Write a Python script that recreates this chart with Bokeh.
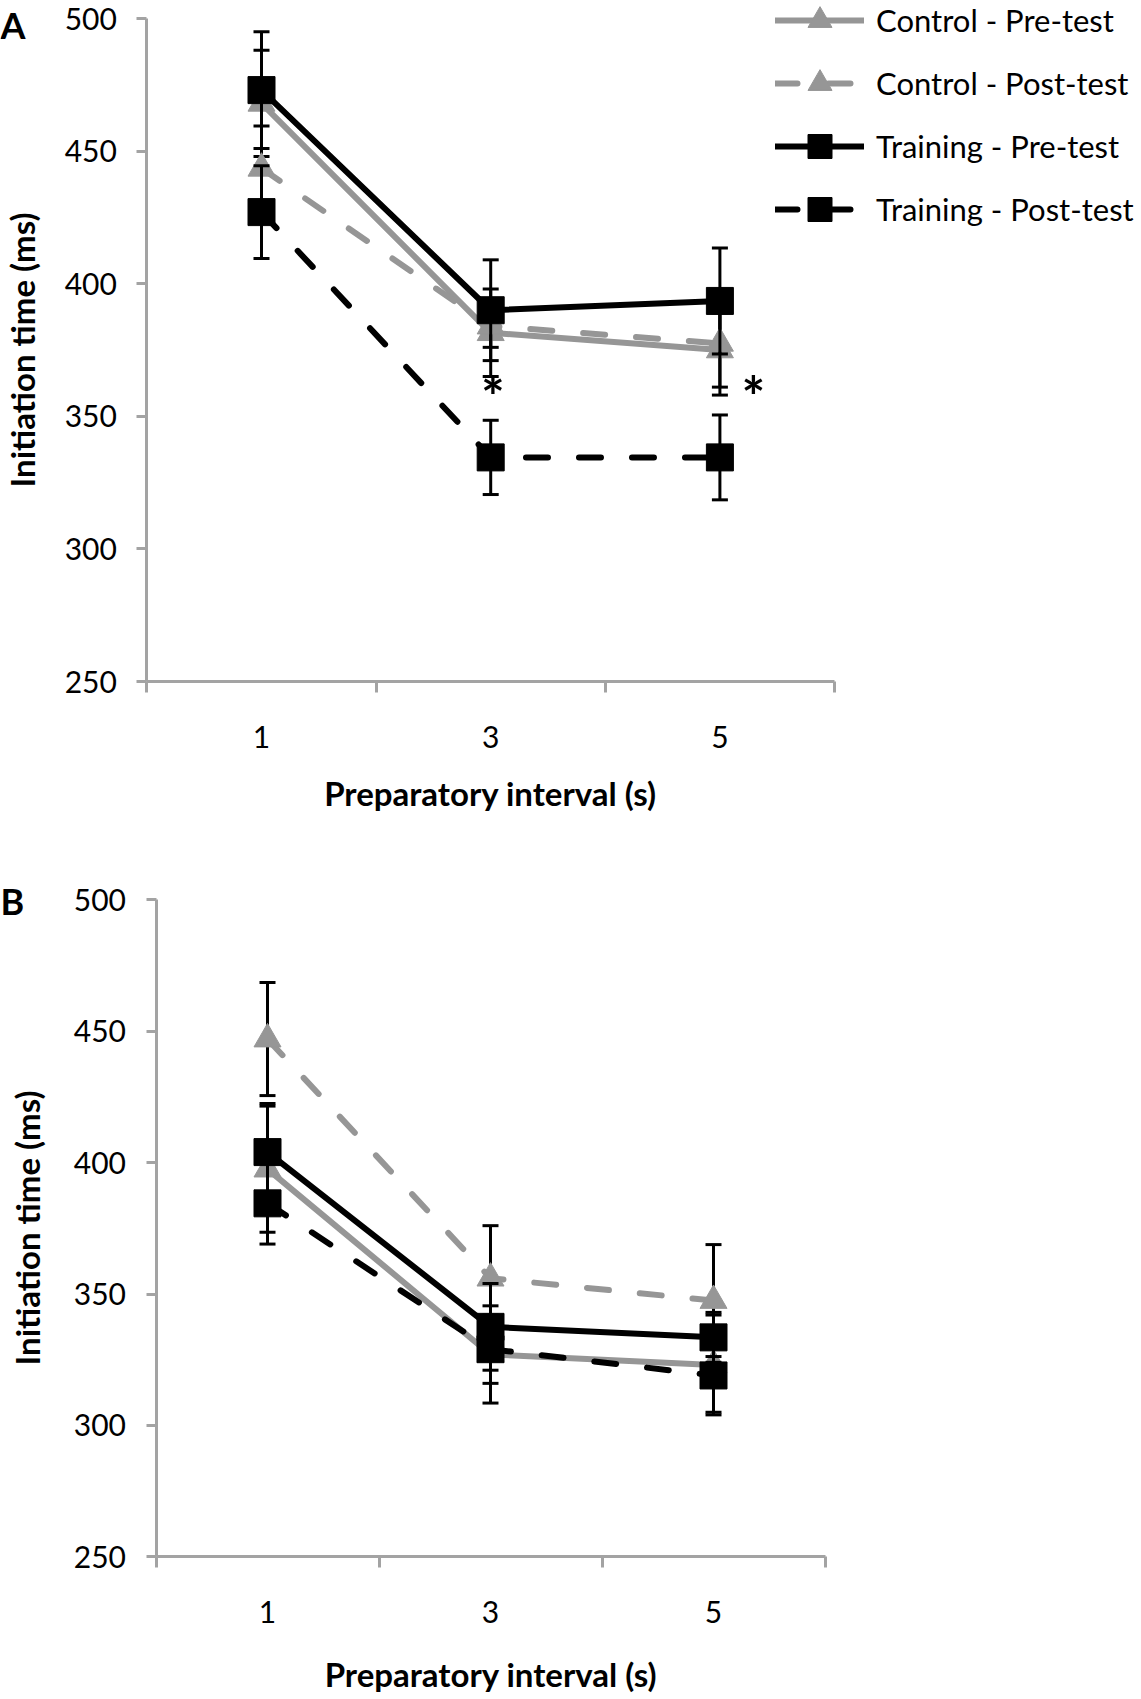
from bokeh.plotting import figure
from bokeh.models import (Range1d, FixedTicker, Legend, LegendItem, Label)
from bokeh.layouts import column
from bokeh.core.properties import value
from bokeh.embed import file_html
from bokeh.resources import INLINE

# ---------------- data ----------------
categories = ["1", "3", "5"]
y_ticks = [250, 300, 350, 400, 450, 500]
series_names = ["Control - Pre-test", "Control - Post-test",
                "Training - Pre-test", "Training - Post-test"]

# Panel A
a_ctrl_pre = [468, 381.5, 375]
a_ctrl_pre_err = [20, 16.5, 14]
a_ctrl_post = [443.5, 384, 377.5]
a_ctrl_post_err = [16, 8, 19.5]
a_train_pre = [473, 390, 393.5]
a_train_pre_err = [22, 19, 20]
a_train_post = [427, 334.5, 334.5]
a_train_post_err = [17.5, 14, 16]

# Panel B
b_ctrl_pre = [397.5, 327, 323]
b_ctrl_pre_err = [24, 18.5, 19]
b_ctrl_post = [447, 356, 347.5]
b_ctrl_post_err = [21.5, 20, 21.3]
b_train_pre = [404, 337.5, 333.5]
b_train_pre_err = [18.5, 16.5, 9.5]
b_train_post = [384.5, 329, 319]
b_train_post_err = [15.5, 13, 14]

# significance markers in panel A
sig_text = ["*", "*"]
sig_value = [361.5, 361.5]

# ---------------- styling ----------------
GRAY = "#969696"
AXIS = "#a3a3a3"
FONT = "Lato"
W = 1141
xs = [i + 0.5 for i in range(len(categories))]

styles = [
    dict(color=GRAY, dash="solid", marker="triangle"),
    dict(color=GRAY, dash="22 31", marker="triangle"),
    dict(color="black", dash="solid", marker="square"),
    dict(color="black", dash="22 31", marker="square"),
]


def make_panel(height, yaxis_px, x_ppu, ytop_px, ybot_px, series, errs,
               xtitle_standoff, ytitle_standoff, panel_letter, letter_top,
               legend=False):
    y_ppu = (ybot_px - ytop_px) / (y_ticks[-1] - y_ticks[0])
    x_range = Range1d(-yaxis_px / x_ppu, (W - yaxis_px) / x_ppu)
    y_range = Range1d(y_ticks[0] - (height - ybot_px) / y_ppu,
                      y_ticks[-1] + ytop_px / y_ppu)
    p = figure(width=W, height=height, output_backend="svg",
               toolbar_location=None, title=None, min_border=0,
               min_border_left=0, min_border_right=0, min_border_top=0,
               min_border_bottom=0, x_range=x_range, y_range=y_range)
    p.outline_line_color = None
    p.xgrid.visible = False
    p.ygrid.visible = False
    p.background_fill_color = "white"

    # y axis
    ya = p.yaxis[0]
    ya.fixed_location = 0
    ya.bounds = (y_ticks[0], y_ticks[-1])
    ya.ticker = FixedTicker(ticks=y_ticks)
    ya.axis_line_color = AXIS
    ya.axis_line_width = 3
    ya.major_tick_line_color = AXIS
    ya.major_tick_line_width = 3
    ya.major_tick_out = 10
    ya.major_tick_in = 0
    ya.minor_tick_line_color = None
    ya.major_label_text_font = FONT
    ya.major_label_text_font_size = "30px"
    ya.major_label_text_color = "black"
    ya.major_label_standoff = 20
    ya.axis_label = "Initiation time (ms)"
    ya.axis_label_text_font = FONT
    ya.axis_label_text_font_style = "bold"
    ya.axis_label_text_font_size = "33px"
    ya.axis_label_text_color = "black"
    ya.axis_label_standoff = ytitle_standoff

    # x axis: labels at category centres, ticks between categories
    xa = p.xaxis[0]
    xa.fixed_location = y_ticks[0]
    xa.bounds = (0, len(categories))
    xa.ticker = FixedTicker(ticks=xs, minor_ticks=list(range(len(categories) + 1)))
    xa.major_label_overrides = {x: c for x, c in zip(xs, categories)}
    xa.axis_line_color = AXIS
    xa.axis_line_width = 3
    xa.major_tick_out = 0
    xa.major_tick_in = 0
    xa.minor_tick_line_color = AXIS
    xa.minor_tick_line_width = 3
    xa.minor_tick_out = 11
    xa.minor_tick_in = 0
    xa.major_label_text_font = FONT
    xa.major_label_text_font_size = "30px"
    xa.major_label_text_color = "black"
    xa.major_label_standoff = 33
    xa.axis_label = "Preparatory interval (s)"
    xa.axis_label_text_font = FONT
    xa.axis_label_text_font_style = "bold"
    xa.axis_label_text_font_size = "33px"
    xa.axis_label_text_color = "black"
    xa.axis_label_standoff = xtitle_standoff

    items = []
    for name, vals, err, st in zip(series_names, series, errs, styles):
        upper = [v + e for v, e in zip(vals, err)]
        lower = [v - e for v, e in zip(vals, err)]
        p.segment(x0=xs, y0=lower, x1=xs, y1=upper, line_color="black", line_width=3)
        p.scatter(x=xs + xs, y=upper + lower, marker="dash", size=16,
                  line_color="black", line_width=3)
        lr = p.line(xs, vals, line_color=st["color"], line_width=6,
                    line_dash=st["dash"], line_cap="round", line_join="round")
        mr = p.scatter(xs, vals, marker=st["marker"], size=27,
                       fill_color=st["color"], line_color=st["color"], line_width=1)
        items.append(LegendItem(label=name, renderers=[lr, mr]))

    if legend:
        glyph_h, gap = 60, 3
        leg_h = len(items) * glyph_h + (len(items) - 1) * gap
        leg_top = -10
        lg = Legend(items=items, location=(775, height - (leg_top + leg_h)),
                    glyph_width=89, glyph_height=glyph_h, spacing=gap,
                    label_standoff=12, padding=0, margin=0,
                    border_line_color=None, background_fill_alpha=0,
                    label_text_font=FONT, label_text_font_size="31px",
                    label_text_color="black")
        p.add_layout(lg)

    p.add_layout(Label(x=0, y=height - letter_top, x_units="screen",
                       y_units="screen", text=panel_letter, text_font=FONT,
                       text_font_style="bold", text_font_size="36px",
                       text_color="black", text_baseline="top"))
    return p


pA = make_panel(850, 146.4, 229.2, 18, 681,
                [a_ctrl_pre, a_ctrl_post, a_train_pre, a_train_post],
                [a_ctrl_pre_err, a_ctrl_post_err, a_train_pre_err, a_train_post_err],
                22, 19, "A", 2, legend=True)
pA.text(x=[xs[1] + 0.01, xs[2] + 0.146], y=sig_value, text=sig_text,
        text_font=value(FONT), text_font_style="bold", text_font_size="56px",
        text_align="center", text_baseline="alphabetic", y_offset=10,
        text_color="black")

pB = make_panel(849, 155.5, 223.0, 49.3, 706.3,
                [b_ctrl_pre, b_ctrl_post, b_train_pre, b_train_post],
                [b_ctrl_pre_err, b_ctrl_post_err, b_train_pre_err, b_train_post_err],
                28, 24, "B", 28)

layout = column(pA, pB)
open("out.html", "w").write(file_html(layout, INLINE))
